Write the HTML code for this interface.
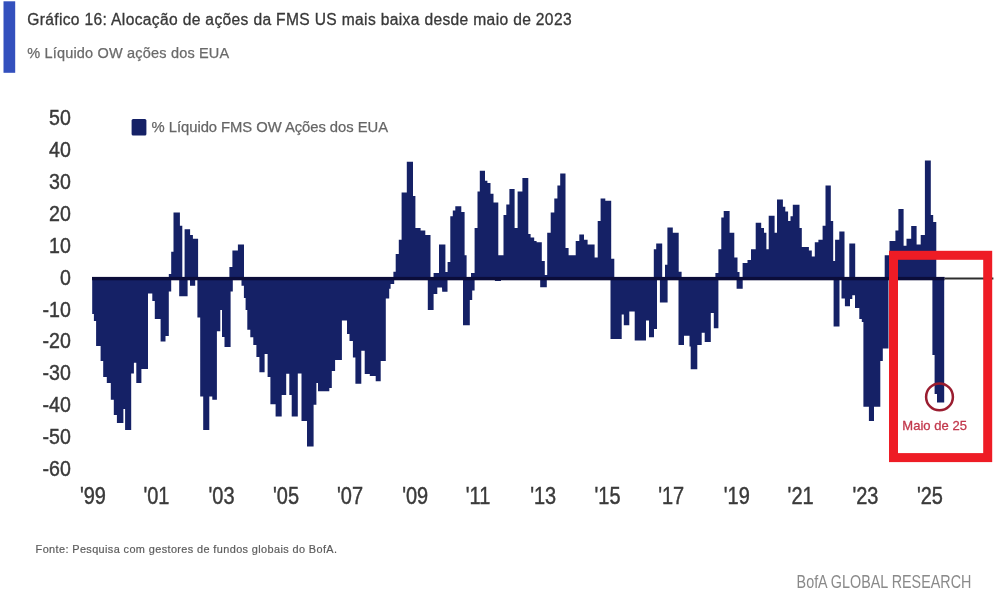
<!DOCTYPE html>
<html><head><meta charset="utf-8"><style>
html,body{margin:0;padding:0;background:#fff;}
body{width:1000px;height:592px;overflow:hidden;position:relative;}
svg{position:absolute;left:0;top:0;filter:blur(0.5px);}
text{font-family:"Liberation Sans",sans-serif;}
</style></head><body>
<svg width="1000" height="592" viewBox="0 0 1000 592">
<rect x="3.5" y="1.3" width="11.7" height="71.5" fill="#3350bd"/>
<text x="27.2" y="24.8" font-size="15.6" fill="#383838" stroke="#383838" stroke-width="0.3" textLength="544.4" lengthAdjust="spacing">Gráfico 16: Alocação de ações da FMS US mais baixa desde maio de 2023</text>
<text x="27.2" y="57.8" font-size="14.5" fill="#6a6a6a" stroke="#6a6a6a" stroke-width="0.25" textLength="202" lengthAdjust="spacing">% Líquido OW ações dos EUA</text>
<rect x="131.6" y="119" width="14.8" height="16.4" rx="1.5" fill="#152166"/>
<text x="151.6" y="132" font-size="14.8" fill="#666" stroke="#666" stroke-width="0.25" textLength="236.4" lengthAdjust="spacing">% Líquido FMS OW Ações dos EUA</text>
<g font-size="22.8" fill="#3a3a3a" stroke="#3a3a3a" stroke-width="0.45">
<text transform="translate(70.8,125.4) scale(0.86,1)" text-anchor="end">50</text>
<text transform="translate(70.8,157.2) scale(0.86,1)" text-anchor="end">40</text>
<text transform="translate(70.8,189.1) scale(0.86,1)" text-anchor="end">30</text>
<text transform="translate(70.8,220.9) scale(0.86,1)" text-anchor="end">20</text>
<text transform="translate(70.8,252.8) scale(0.86,1)" text-anchor="end">10</text>
<text transform="translate(70.8,284.6) scale(0.86,1)" text-anchor="end">0</text>
<text transform="translate(70.8,316.5) scale(0.86,1)" text-anchor="end">-10</text>
<text transform="translate(70.8,348.3) scale(0.86,1)" text-anchor="end">-20</text>
<text transform="translate(70.8,380.2) scale(0.86,1)" text-anchor="end">-30</text>
<text transform="translate(70.8,412.0) scale(0.86,1)" text-anchor="end">-40</text>
<text transform="translate(70.8,443.9) scale(0.86,1)" text-anchor="end">-50</text>
<text transform="translate(70.8,475.7) scale(0.86,1)" text-anchor="end">-60</text>
</g>
<g font-size="23.5" fill="#3a3a3a" stroke="#3a3a3a" stroke-width="0.45">
<text transform="translate(92.9,504.2) scale(0.85,1)" text-anchor="middle">&#39;99</text>
<text transform="translate(156.4,504.2) scale(0.85,1)" text-anchor="middle">&#39;01</text>
<text transform="translate(221.5,504.2) scale(0.85,1)" text-anchor="middle">&#39;03</text>
<text transform="translate(286,504.2) scale(0.85,1)" text-anchor="middle">&#39;05</text>
<text transform="translate(350,504.2) scale(0.85,1)" text-anchor="middle">&#39;07</text>
<text transform="translate(415.2,504.2) scale(0.85,1)" text-anchor="middle">&#39;09</text>
<text transform="translate(478,504.2) scale(0.85,1)" text-anchor="middle">&#39;11</text>
<text transform="translate(543.2,504.2) scale(0.85,1)" text-anchor="middle">&#39;13</text>
<text transform="translate(607.5,504.2) scale(0.85,1)" text-anchor="middle">&#39;15</text>
<text transform="translate(671.2,504.2) scale(0.85,1)" text-anchor="middle">&#39;17</text>
<text transform="translate(736.8,504.2) scale(0.85,1)" text-anchor="middle">&#39;19</text>
<text transform="translate(800.6,504.2) scale(0.85,1)" text-anchor="middle">&#39;21</text>
<text transform="translate(865.4,504.2) scale(0.85,1)" text-anchor="middle">&#39;23</text>
<text transform="translate(929.9,504.2) scale(0.85,1)" text-anchor="middle">&#39;25</text>
</g>
<g fill="#152166">
<path d="M168.8,278.5 L168.8,274.0 L171.2,274.0 L171.2,251.7 L173.5,251.7 L173.5,212.6 L179.9,212.6 L179.9,225.7 L182.3,225.7 L182.3,278.5ZM184.6,278.5 L184.6,229.2 L190.1,229.2 L190.1,235.0 L192.9,235.0 L192.9,238.7 L198.1,238.7 L198.1,278.5ZM229.4,278.5 L229.4,267.0 L232.4,267.0 L232.4,250.5 L237.9,250.5 L237.9,244.6 L244.0,244.6 L244.0,278.5ZM393.4,278.5 L393.4,271.7 L395.7,271.7 L395.7,254.0 L398.8,254.0 L398.8,239.8 L401.6,239.8 L401.6,192.6 L406.8,192.6 L406.8,161.8 L413.0,161.8 L413.0,196.1 L415.4,196.1 L415.4,228.0 L420.6,228.0 L420.6,230.4 L425.3,230.4 L425.3,235.1 L430.5,235.1 L430.5,278.5ZM433.6,278.5 L433.6,273.0 L439.0,273.0 L439.0,244.6 L445.4,244.6 L445.4,272.0 L447.6,272.0 L447.6,262.0 L450.3,262.0 L450.3,216.3 L452.8,216.3 L452.8,210.4 L455.3,210.4 L455.3,206.2 L461.3,206.2 L461.3,212.0 L464.6,212.0 L464.6,255.2 L466.6,255.2 L466.6,278.5ZM471.0,278.5 L471.0,273.0 L474.6,273.0 L474.6,228.0 L477.5,228.0 L477.5,191.4 L479.8,191.4 L479.8,170.8 L485.0,170.8 L485.0,180.7 L487.4,180.7 L487.4,183.1 L490.5,183.1 L490.5,193.7 L493.5,193.7 L493.5,202.5 L498.3,202.5 L498.3,255.2 L503.5,255.2 L503.5,215.0 L506.3,215.0 L506.3,204.4 L509.4,204.4 L509.4,189.0 L514.6,189.0 L514.6,228.0 L517.6,228.0 L517.6,191.4 L522.4,191.4 L522.4,177.9 L528.3,177.9 L528.3,234.0 L530.6,234.0 L530.6,237.5 L534.2,237.5 L534.2,241.0 L536.6,241.0 L536.6,242.2 L541.8,242.2 L541.8,261.1 L544.8,261.1 L544.8,275.0 L547.2,275.0 L547.2,232.7 L550.7,232.7 L550.7,212.6 L554.3,212.6 L554.3,198.5 L557.4,198.5 L557.4,185.5 L560.2,185.5 L560.2,173.6 L565.5,173.6 L565.5,248.1 L568.6,248.1 L568.6,255.2 L575.7,255.2 L575.7,241.0 L579.3,241.0 L579.3,234.6 L584.0,234.6 L584.0,239.8 L587.6,239.8 L587.6,244.6 L594.6,244.6 L594.6,257.6 L597.7,257.6 L597.7,220.9 L600.6,220.9 L600.6,198.5 L605.3,198.5 L605.3,200.8 L611.2,200.8 L611.2,258.7 L614.3,258.7 L614.3,278.5ZM653.8,278.5 L653.8,249.3 L656.2,249.3 L656.2,243.4 L662.2,243.4 L662.2,278.5ZM665.0,278.5 L665.0,264.7 L667.4,264.7 L667.4,227.5 L672.8,227.5 L672.8,232.7 L678.7,232.7 L678.7,271.7 L681.6,271.7 L681.6,278.5ZM715.4,278.5 L715.4,273.0 L718.4,273.0 L718.4,249.3 L721.3,249.3 L721.3,217.4 L723.7,217.4 L723.7,211.0 L729.6,211.0 L729.6,232.7 L734.3,232.7 L734.3,257.6 L737.5,257.6 L737.5,272.0 L739.5,272.0 L739.5,278.5ZM742.6,278.5 L742.6,263.0 L747.5,263.0 L747.5,260.0 L751.0,260.0 L751.0,249.3 L755.7,249.3 L755.7,222.8 L761.2,222.8 L761.2,228.0 L764.0,228.0 L764.0,232.7 L766.4,232.7 L766.4,249.3 L768.7,249.3 L768.7,215.7 L774.6,215.7 L774.6,232.7 L777.0,232.7 L777.0,199.6 L782.9,199.6 L782.9,206.7 L785.3,206.7 L785.3,211.5 L788.1,211.5 L788.1,221.0 L790.5,221.0 L790.5,216.2 L792.8,216.2 L792.8,204.8 L799.5,204.8 L799.5,228.0 L801.8,228.0 L801.8,246.9 L808.9,246.9 L808.9,250.5 L811.8,250.5 L811.8,256.4 L814.8,256.4 L814.8,242.2 L818.4,242.2 L818.4,239.8 L822.6,239.8 L822.6,225.7 L825.5,225.7 L825.5,185.5 L830.8,185.5 L830.8,221.0 L833.2,221.0 L833.2,261.0 L835.1,261.0 L835.1,239.8 L839.3,239.8 L839.3,231.6 L844.5,231.6 L844.5,278.5ZM849.3,278.5 L849.3,243.4 L855.2,243.4 L855.2,278.5ZM884.7,278.5 L884.7,255.2 L889.5,255.2 L889.5,241.0 L895.4,241.0 L895.4,230.4 L898.4,230.4 L898.4,209.1 L903.6,209.1 L903.6,245.7 L906.5,245.7 L906.5,238.7 L911.2,238.7 L911.2,226.1 L916.6,226.1 L916.6,244.6 L920.7,244.6 L920.7,235.1 L924.9,235.1 L924.9,160.6 L930.8,160.6 L930.8,215.0 L933.2,215.0 L933.2,222.1 L936.3,222.1 L936.3,278.5Z"/>
<path d="M92.2,277.0 L92.2,314.0 L93.9,314.0 L93.9,321.0 L96.1,321.0 L96.1,346.0 L100.6,346.0 L100.6,361.0 L103.2,361.0 L103.2,377.0 L106.8,377.0 L106.8,383.0 L110.8,383.0 L110.8,399.7 L113.8,399.7 L113.8,414.9 L116.9,414.9 L116.9,423.0 L123.4,423.0 L123.4,409.0 L125.1,409.0 L125.1,430.0 L131.2,430.0 L131.2,373.6 L133.9,373.6 L133.9,362.8 L136.3,362.8 L136.3,383.1 L141.4,383.1 L141.4,368.9 L148.0,368.9 L148.0,293.5 L152.3,293.5 L152.3,301.0 L154.8,301.0 L154.8,319.0 L160.6,319.0 L160.6,341.5 L165.5,341.5 L165.5,336.0 L168.8,336.0 L168.8,291.4 L171.2,291.4 L171.2,277.0ZM179.2,277.0 L179.2,296.2 L187.6,296.2 L187.6,277.0ZM190.0,277.0 L190.0,285.8 L195.2,285.8 L195.2,277.0ZM197.4,277.0 L197.4,317.6 L200.2,317.6 L200.2,396.6 L203.2,396.6 L203.2,430.0 L209.3,430.0 L209.3,396.6 L212.3,396.6 L212.3,399.7 L216.9,399.7 L216.9,331.3 L220.3,331.3 L220.3,310.0 L222.0,310.0 L222.0,337.0 L224.5,337.0 L224.5,347.0 L230.6,347.0 L230.6,291.4 L232.8,291.4 L232.8,277.0ZM241.5,277.0 L241.5,285.8 L243.9,285.8 L243.9,298.0 L245.6,298.0 L245.6,310.0 L247.3,310.0 L247.3,329.8 L250.3,329.8 L250.3,337.3 L253.3,337.3 L253.3,345.0 L256.4,345.0 L256.4,357.0 L259.4,357.0 L259.4,372.3 L264.6,372.3 L264.6,354.0 L267.6,354.0 L267.6,376.9 L270.4,376.9 L270.4,404.2 L275.6,404.2 L275.6,416.4 L281.7,416.4 L281.7,395.0 L286.2,395.0 L286.2,373.8 L289.3,373.8 L289.3,395.0 L291.7,395.0 L291.7,416.4 L297.8,416.4 L297.8,373.6 L301.5,373.6 L301.5,421.0 L307.0,421.0 L307.0,446.5 L313.6,446.5 L313.6,404.8 L316.4,404.8 L316.4,382.9 L318.0,382.9 L318.0,391.3 L329.3,391.3 L329.3,388.0 L331.8,388.0 L331.8,371.0 L335.1,371.0 L335.1,360.0 L341.9,360.0 L341.9,320.4 L347.0,320.4 L347.0,334.0 L349.5,334.0 L349.5,341.0 L352.9,341.0 L352.9,357.6 L355.4,357.6 L355.4,383.8 L361.3,383.8 L361.3,350.8 L364.7,350.8 L364.7,374.0 L369.8,374.0 L369.8,376.0 L375.7,376.0 L375.7,381.2 L380.7,381.2 L380.7,361.0 L385.8,361.0 L385.8,298.4 L389.2,298.4 L389.2,288.7 L390.6,288.7 L390.6,284.0 L394.2,284.0 L394.2,280.0 L396.6,280.0 L396.6,277.0ZM427.8,277.0 L427.8,310.0 L433.6,310.0 L433.6,294.0 L437.3,294.0 L437.3,287.4 L442.0,287.4 L442.2,291.8 L447.5,291.8 L447.5,277.0ZM463.0,277.0 L463.0,325.2 L469.8,325.2 L469.8,300.0 L472.2,300.0 L472.2,290.4 L474.6,290.4 L474.6,277.0ZM494.9,277.0 L494.9,281.0 L501.0,281.0 L501.0,277.0ZM540.2,277.0 L540.2,287.2 L546.8,287.2 L546.8,277.0ZM610.5,277.0 L610.5,339.0 L621.7,339.0 L621.7,314.6 L623.8,314.6 L623.8,325.2 L629.3,325.2 L629.3,311.5 L634.7,311.5 L634.7,340.4 L646.0,340.4 L646.0,320.6 L649.0,320.6 L649.0,337.3 L654.0,337.3 L654.0,329.0 L657.0,329.0 L657.0,277.0ZM659.9,277.0 L659.9,302.4 L667.6,302.4 L667.6,277.0ZM678.5,277.0 L678.5,345.0 L684.0,345.0 L684.0,335.8 L689.5,335.8 L689.5,346.5 L690.7,346.5 L690.7,369.3 L697.3,369.3 L697.3,345.0 L701.7,345.0 L701.7,332.8 L704.7,332.8 L704.7,341.9 L710.8,341.9 L710.8,313.0 L713.8,313.0 L713.8,328.2 L718.4,328.2 L718.4,277.0ZM736.6,277.0 L736.6,288.7 L742.7,288.7 L742.7,277.0ZM833.6,277.0 L833.6,326.5 L839.5,326.5 L839.5,277.0ZM841.5,277.0 L841.5,298.6 L844.9,298.6 L844.9,306.3 L850.0,306.3 L850.0,299.0 L852.3,299.0 L852.3,295.3 L855.0,295.3 L855.0,308.0 L859.3,308.0 L859.3,319.0 L861.8,319.0 L861.8,322.0 L863.4,322.0 L863.4,406.7 L868.9,406.7 L868.9,421.0 L874.0,421.0 L874.0,406.7 L880.3,406.7 L880.3,361.0 L882.8,361.0 L882.8,348.5 L888.5,348.5 L888.5,277.0ZM932.4,277.0 L932.4,355.0 L934.6,355.0 L934.6,394.0 L937.0,394.0 L937.0,402.5 L944.2,402.5 L944.2,277.0Z"/>
</g>
<rect x="92" y="276.9" width="852.6" height="3.4" fill="#0b0d3a"/>
<rect x="944.6" y="277.5" width="48.8" height="2" fill="#2e2e2e"/>
<rect x="893.5" y="255.3" width="94.2" height="202.3" fill="none" stroke="#ee1c25" stroke-width="9"/>
<circle cx="939.5" cy="396.9" r="13.4" fill="none" stroke="#9a1d30" stroke-width="2.5"/>
<text x="902.3" y="429.8" font-size="13" fill="#c2384c" stroke="#c2384c" stroke-width="0.3" textLength="64.6" lengthAdjust="spacing">Maio de 25</text>
<text x="35.6" y="553" font-size="10.9" fill="#5c5c5c" stroke="#5c5c5c" stroke-width="0.2" textLength="301.4" lengthAdjust="spacing">Fonte: Pesquisa com gestores de fundos globais do BofA.</text>
<text transform="translate(796.6,588.3) scale(0.775,1)" font-size="18.5" fill="#8a8a8a">BofA GLOBAL RESEARCH</text>
</svg>
</body></html>
